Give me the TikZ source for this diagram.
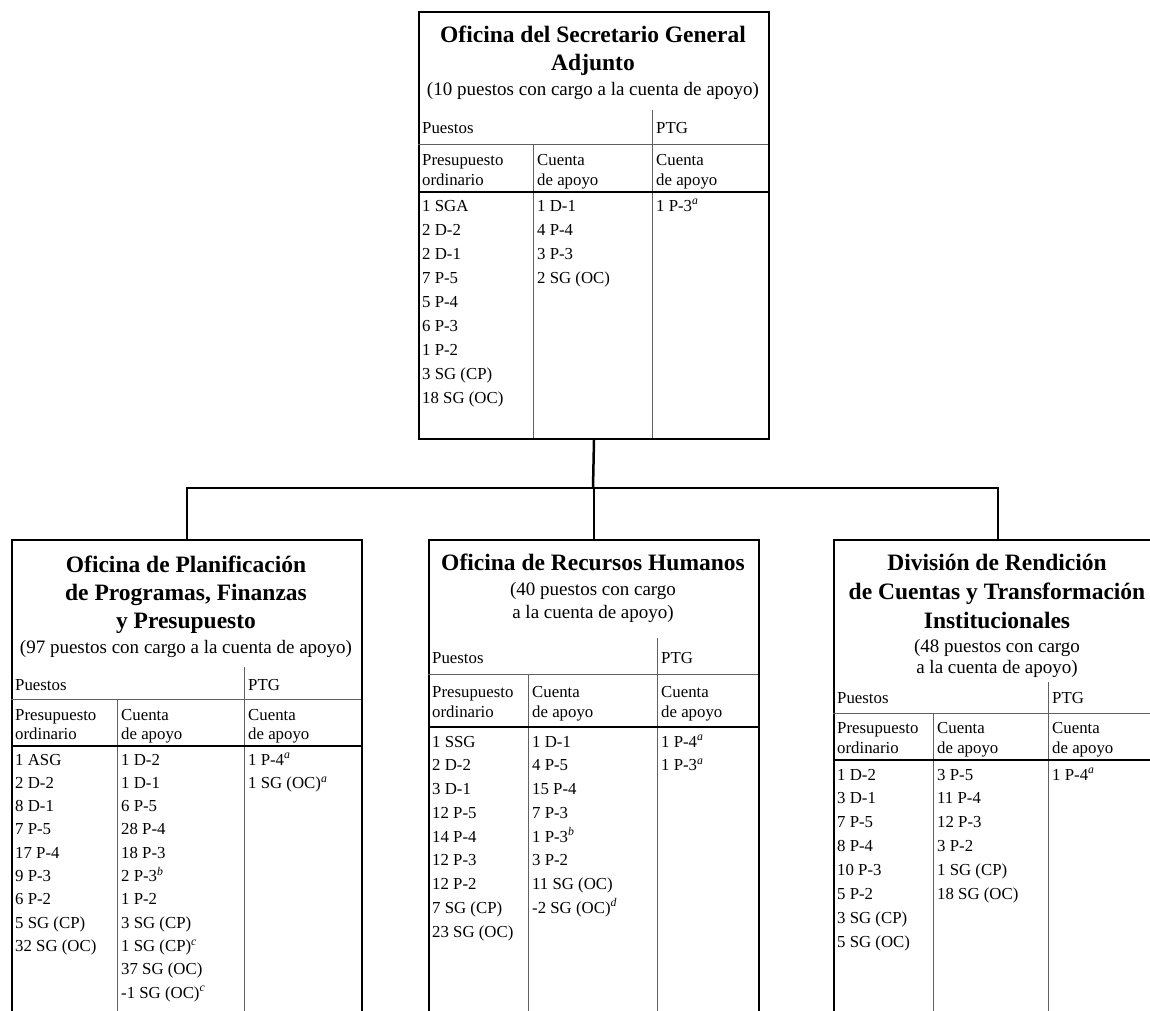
\documentclass[tikz,border=0pt]{standalone}
\usepackage{fontspec}
\setmainfont{Liberation Serif}
\newcommand\noteletter[1]{\textsuperscript{\textit{#1}}}
\newcommand\txtlines[6]{%
  \foreach \lineT [count=\i] in {#6} {
    \node[#5] (#1-\i) at (#2, {#3+(\i-1)*#4}) {\lineT};
  }%
}
\tikzset{
  orgbox/.style={draw, line width=2pt, inner sep=0pt, anchor=north west},
  ttl/.style={font=\fontsize{23.5}{28}\selectfont\bfseries, anchor=base, inner sep=0pt},
  subttl/.style={font=\fontsize{19}{23}\selectfont, anchor=base, inner sep=0pt},
  cell/.style={font=\fontsize{16.8}{20}\selectfont, anchor=base west, inner sep=0pt},
  gridline/.style={line width=1pt, draw=gray!75!black},
  thickrule/.style={line width=2pt},
  conn/.style={line width=2.5pt},
}
\begin{document}
\begin{tikzpicture}[x=1pt, y=-1pt]
\useasboundingbox (0,0) rectangle (1150,1010);
\clip (0,0) rectangle (1150,1010);

% ---------------- top box ----------------
\node[orgbox, minimum width=350pt, minimum height=427pt] (osga) at (418,11) {};
\txtlines{osgaT}{593}{42}{28}{ttl}{Oficina del Secretario General, Adjunto}
\node[subttl] (osgaS) at (593,95) {(10 puestos con cargo a la cuenta de apoyo)};
\draw[gridline] (652,110) -- (652,438);
\draw[gridline] (418,144) -- (768,144);
\draw[gridline] (533,144) -- (533,438);
\draw[thickrule] (418,192) -- (768,192);
\node[cell] (osgaP) at (422,133) {Puestos};
\node[cell] (osgaG) at (656,133) {PTG};
\txtlines{osgaH1}{422}{165}{20}{cell}{Presupuesto, ordinario}
\txtlines{osgaH2}{537}{165}{20}{cell}{Cuenta, de apoyo}
\txtlines{osgaH3}{656}{165}{20}{cell}{Cuenta, de apoyo}
\txtlines{osgaC1}{422}{211}{24}{cell}{1 SGA, 2 D-2, 2 D-1, 7 P-5, 5 P-4, 6 P-3, 1 P-2, 3 SG (CP), 18 SG (OC)}
\txtlines{osgaC2}{537}{211}{24}{cell}{1 D-1, 4 P-4, 3 P-3, 2 SG (OC)}
\txtlines{osgaC3}{656}{211}{24}{cell}{1 P-3\noteletter{a}}

% ---------------- left box ----------------
\node[orgbox, minimum width=350pt, minimum height=501pt] (opfp) at (11,539) {};
\txtlines{opfpT}{186}{572}{28}{ttl}{Oficina de Planificación, {de Programas, Finanzas}, y Presupuesto}
\node[subttl] (opfpS) at (186,653) {(97 puestos con cargo a la cuenta de apoyo)};
\draw[gridline] (244,667) -- (244,1040);
\draw[gridline] (11,699) -- (361,699);
\draw[gridline] (117,699) -- (117,1040);
\draw[thickrule] (11,746) -- (361,746);
\node[cell] (opfpP) at (15,690) {Puestos};
\node[cell] (opfpG) at (248,690) {PTG};
\txtlines{opfpH1}{15}{720}{19.5}{cell}{Presupuesto, ordinario}
\txtlines{opfpH2}{121}{720}{19.5}{cell}{Cuenta, de apoyo}
\txtlines{opfpH3}{248}{720}{19.5}{cell}{Cuenta, de apoyo}
\txtlines{opfpC1}{15}{765}{23.3}{cell}{1 ASG, 2 D-2, 8 D-1, 7 P-5, 17 P-4, 9 P-3, 6 P-2, 5 SG (CP), 32 SG (OC)}
\txtlines{opfpC2}{121}{765}{23.3}{cell}{1 D-2, 1 D-1, 6 P-5, 28 P-4, 18 P-3, 2 P-3\noteletter{b}, 1 P-2, 3 SG (CP), 1 SG (CP)\noteletter{c}, 37 SG (OC), -1 SG (OC)\noteletter{c}}
\txtlines{opfpC3}{248}{765}{23.3}{cell}{1 P-4\noteletter{a}, 1 SG (OC)\noteletter{a}}

% ---------------- middle box ----------------
\node[orgbox, minimum width=330pt, minimum height=501pt] (orh) at (428,539) {};
\node[ttl] (orhT) at (593,570) {Oficina de Recursos Humanos};
\node[subttl] (orhS1) at (593,595) {(40 puestos con cargo};
\node[subttl] (orhS2) at (593,618) {a la cuenta de apoyo)};
\draw[gridline] (657,638) -- (657,1040);
\draw[gridline] (428,674) -- (758,674);
\draw[gridline] (528,674) -- (528,1040);
\draw[thickrule] (428,727) -- (758,727);
\node[cell] (orhP) at (432,663) {Puestos};
\node[cell] (orhG) at (661,663) {PTG};
\txtlines{orhH1}{432}{697}{20}{cell}{Presupuesto, ordinario}
\txtlines{orhH2}{532}{697}{20}{cell}{Cuenta, de apoyo}
\txtlines{orhH3}{661}{697}{20}{cell}{Cuenta, de apoyo}
\txtlines{orhC1}{432}{747}{23.75}{cell}{1 SSG, 2 D-2, 3 D-1, 12 P-5, 14 P-4, 12 P-3, 12 P-2, 7 SG (CP), 23 SG (OC)}
\txtlines{orhC2}{532}{747}{23.75}{cell}{1 D-1, 4 P-5, 15 P-4, 7 P-3, 1 P-3\noteletter{b}, 3 P-2, 11 SG (OC), -2 SG (OC)\noteletter{d}}
\txtlines{orhC3}{661}{747}{23.75}{cell}{1 P-4\noteletter{a}, 1 P-3\noteletter{a}}

% ---------------- right box ----------------
\node[orgbox, minimum width=328pt, minimum height=501pt] (drcti) at (833,539) {};
\txtlines{drctiT}{997}{570}{29}{ttl}{División de Rendición, de Cuentas y Transformación, Institucionales}
\node[subttl] (drctiS1) at (997,652) {(48 puestos con cargo};
\node[subttl] (drctiS2) at (997,673.5) {a la cuenta de apoyo)};
\draw[gridline] (1048,682) -- (1048,1040);
\draw[gridline] (833,713) -- (1161,713);
\draw[gridline] (933,713) -- (933,1040);
\draw[thickrule] (833,760) -- (1161,760);
\node[cell] (drctiP) at (837,703) {Puestos};
\node[cell] (drctiG) at (1052,703) {PTG};
\txtlines{drctiH1}{837}{733}{20}{cell}{Presupuesto, ordinario}
\txtlines{drctiH2}{937}{733}{20}{cell}{Cuenta, de apoyo}
\txtlines{drctiH3}{1052}{733}{20}{cell}{Cuenta, de apoyo}
\txtlines{drctiC1}{837}{780}{23.9}{cell}{1 D-2, 3 D-1, 7 P-5, 8 P-4, 10 P-3, 5 P-2, 3 SG (CP), 5 SG (OC)}
\txtlines{drctiC2}{937}{780}{23.9}{cell}{3 P-5, 11 P-4, 12 P-3, 3 P-2, 1 SG (CP), 18 SG (OC)}
\txtlines{drctiC3}{1052}{780}{23.9}{cell}{1 P-4\noteletter{a}}

% ---------------- connectors ----------------
\coordinate (bus) at (593,488);
\draw[conn] (osga.south) -- (bus);
\draw[conn] (opfp.north) |- (bus) -| (drcti.north);
\draw[conn] (orh.north) -- (orh.north |- bus);
\end{tikzpicture}
\end{document}
